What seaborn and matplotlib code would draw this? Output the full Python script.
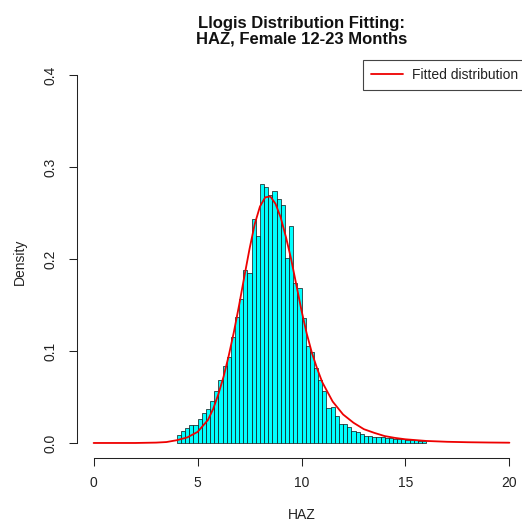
import numpy as np
import pandas as pd
import matplotlib
matplotlib.use("Agg")
import matplotlib.pyplot as plt
import seaborn as sns

# Histograma: densidad de cada barra (ancho 0.2, desde HAZ = 4.0)
bin_start = 4.0
bin_width = 0.2
densidad = [
    0.009, 0.013, 0.016, 0.019, 0.020, 0.026, 0.033, 0.037, 0.046, 0.056,
    0.069, 0.084, 0.093, 0.115, 0.137, 0.157, 0.188, 0.185, 0.244, 0.225,
    0.281, 0.278, 0.270, 0.274, 0.265, 0.259, 0.201, 0.236, 0.174, 0.168,
    0.136, 0.105, 0.099, 0.082, 0.068, 0.056, 0.038, 0.039, 0.029, 0.021,
    0.021, 0.017, 0.013, 0.012, 0.010, 0.008, 0.008, 0.007, 0.006, 0.006,
    0.005, 0.005, 0.004, 0.004, 0.004, 0.003, 0.003, 0.003, 0.002, 0.002,
]

# Curva ajustada
curva_x = [0, 1, 2, 3, 3.5, 4, 4.5, 5, 5.5, 5.75, 6, 6.25, 6.5, 6.75, 7,
           7.25, 7.5, 7.75, 8, 8.25, 8.5, 8.75, 9, 9.25, 9.5, 9.75, 10,
           10.25, 10.5, 10.75, 11, 11.5, 12, 12.5, 13, 13.5, 14, 14.5, 15,
           16, 17, 18, 19, 20]
curva_y = [0.0, 0.0, 0.0, 0.0004, 0.001, 0.003, 0.006, 0.012, 0.025, 0.037,
           0.053, 0.072, 0.095, 0.121, 0.150, 0.181, 0.211, 0.238, 0.257,
           0.267, 0.268, 0.260, 0.245, 0.224, 0.200, 0.172, 0.144, 0.119,
           0.098, 0.081, 0.066, 0.045, 0.031, 0.022, 0.015, 0.011, 0.0075,
           0.0055, 0.004, 0.0022, 0.0013, 0.0008, 0.0005, 0.0003]

x_ticks = [0, 5, 10, 15, 20]
y_ticks = [0.0, 0.1, 0.2, 0.3, 0.4]
y_tick_labels = ["0.0", "0.1", "0.2", "0.3", "0.4"]

titulo = "Llogis Distribution Fitting:\nHAZ, Female 12-23 Months"

sns.set_style("ticks")
plt.rcParams["font.family"] = ["Liberation Sans", "DejaVu Sans"]

bordes = bin_start + bin_width * np.arange(len(densidad) + 1)
df_hist = pd.DataFrame({
    "HAZ": (bordes[:-1] + bordes[1:]) / 2,
    "densidad": densidad,
})
df_curva = pd.DataFrame({"HAZ": curva_x, "densidad": curva_y})

fig = plt.figure(figsize=(5.22, 5.29), dpi=100)
ax = fig.add_axes([0.1475, 0.1348, 0.8602, 0.7512])

sns.histplot(data=df_hist, x="HAZ", weights="densidad", bins=list(bordes),
             stat="count", color="#00FFFF", edgecolor="#111111",
             linewidth=0.5, alpha=1, ax=ax)
sns.lineplot(data=df_curva, x="HAZ", y="densidad", color="#EE0000",
             linewidth=1.3, label="Fitted distribution", ax=ax)

ax.set_xlim(-0.8, 20.8)
ax.set_ylim(-0.016, 0.416)

# Ejes estilo R
ax.spines[["top", "right"]].set_visible(False)
ax.spines["left"].set_bounds(0, 0.4)
ax.spines["bottom"].set_bounds(0, 20)
for s in ["left", "bottom"]:
    ax.spines[s].set_color("#222222")
    ax.spines[s].set_linewidth(0.75)

ax.set_xticks(x_ticks)
ax.set_xticklabels([str(t) for t in x_ticks])
ax.set_yticks(y_ticks)
ax.set_yticklabels(y_tick_labels)
ax.tick_params(axis="both", length=5.5, width=0.75, color="#222222",
               labelsize=10, labelcolor="#222222")
ax.tick_params(axis="x", pad=7.5)
ax.tick_params(axis="y", pad=8.5)
for lbl in ax.get_yticklabels():
    lbl.set_rotation(90)
    lbl.set_va("center")

ax.set_xlabel("HAZ", fontsize=10, color="#222222")
ax.xaxis.set_label_coords(0.5, -0.1266)
ax.set_ylabel("Density", fontsize=10, color="#222222")
ax.yaxis.set_label_coords(-0.111, 0.4925)

fig.text(0.5776, 0.918, titulo, ha="center", va="baseline",
         fontsize=12, fontweight="bold", linespacing=1.05, color="#111111")

leg = ax.legend(loc="upper right", borderaxespad=0, fancybox=False,
                edgecolor="#444444", framealpha=1, fontsize=10,
                handlelength=2.3, handletextpad=0.7, borderpad=0.55,
                labelcolor="#222222")
leg.get_frame().set_linewidth(0.8)

fig.savefig("out.png", dpi=100)
